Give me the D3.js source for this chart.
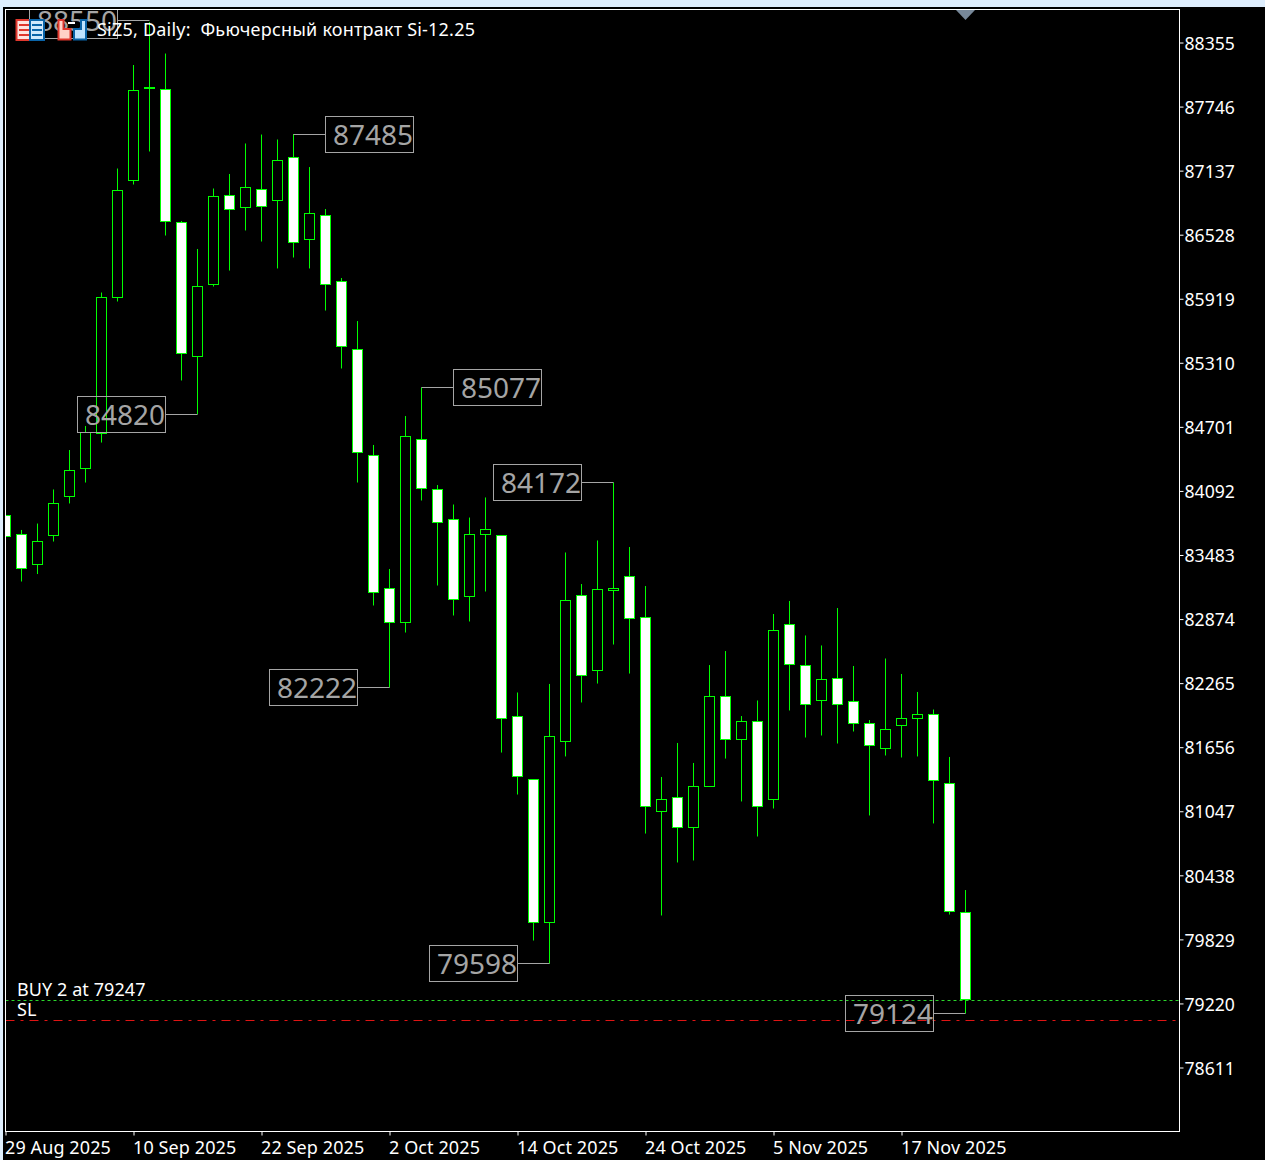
<!DOCTYPE html>
<html><head><meta charset="utf-8">
<script src="https://cdn.jsdelivr.net/npm/d3@7/dist/d3.min.js"></script>
<style>
html,body{margin:0;padding:0;background:#000;overflow:hidden}
svg{display:block;position:absolute;left:0;top:0}
text{font-family:"Noto Sans","Liberation Sans",sans-serif}
</style></head><body><div id="c"></div>
<script>
const dates=["29 Aug 2025","1 Sep 2025","2 Sep 2025","3 Sep 2025","4 Sep 2025","5 Sep 2025","8 Sep 2025","9 Sep 2025","10 Sep 2025","11 Sep 2025","12 Sep 2025","15 Sep 2025","16 Sep 2025","17 Sep 2025","18 Sep 2025","19 Sep 2025","22 Sep 2025","23 Sep 2025","24 Sep 2025","25 Sep 2025","26 Sep 2025","29 Sep 2025","30 Sep 2025","1 Oct 2025","2 Oct 2025","3 Oct 2025","6 Oct 2025","7 Oct 2025","8 Oct 2025","9 Oct 2025","10 Oct 2025","13 Oct 2025","14 Oct 2025","15 Oct 2025","16 Oct 2025","17 Oct 2025","20 Oct 2025","21 Oct 2025","22 Oct 2025","23 Oct 2025","24 Oct 2025","27 Oct 2025","28 Oct 2025","29 Oct 2025","30 Oct 2025","31 Oct 2025","3 Nov 2025","4 Nov 2025","5 Nov 2025","6 Nov 2025","7 Nov 2025","10 Nov 2025","11 Nov 2025","12 Nov 2025","13 Nov 2025","14 Nov 2025","17 Nov 2025","18 Nov 2025","19 Nov 2025","20 Nov 2025","21 Nov 2025"];
const opens=[83859,83678,83393,83668,84039,84305,84638,85931,87043,87918,87908,86644,85370,86054,86900,86786,86958,86853,87262,86482,86710,86083,85436,84429,83164,82841,84581,84106,83820,83088,83678,83668,81948,81349,79989,81710,83098,82385,83145,83279,82889,81045,81178,80892,81282,82138,81729,81900,81159,82822,82432,82100,82309,82090,81881,81643,81862,81929,81967,81311,80084];
const closes=[83659,83355,83611,83973,84286,84647,85931,86948,87899,87927,86653,85398,86035,86891,86767,86977,86796,87233,86454,86729,86054,85465,84457,83126,82841,84609,84115,83792,83060,83678,83725,81929,81377,79989,81758,83050,82337,83155,83164,82879,81092,81159,80892,81282,82138,81729,81900,81092,82765,82442,82062,82299,82062,81881,81672,81824,81929,81967,81339,80094,79257];
const highs=[83859,83721,83782,84106,84481,84709,85978,87157,88141,88550,88250,86658,86392,86967,87105,87395,87480,87433,87485,87171,86772,86116,85707,84529,83350,84804,85077,84148,83963,83839,84030,83668,82176,81349,82257,83507,83207,83621,84172,83559,83188,81373,81696,81506,82437,82570,81952,82100,82922,83046,82718,82623,82979,82428,81914,82499,82352,82181,82014,81563,80298];
const lows=[83659,83231,83302,83611,83973,84172,84552,85893,87005,87319,86520,85142,84820,86035,86187,86568,86463,86207,86311,86207,85807,85256,84172,83003,82222,82746,84001,83193,82908,82851,83136,81605,81206,79818,79598,81568,82081,82261,82632,82356,80835,80056,80560,80579,81282,81548,81140,80807,81073,82005,81748,81767,81691,81805,81007,81577,81558,81568,80931,80065,79124];
const yTicks=[88355,87746,87137,86528,85919,85310,84701,84092,83483,82874,82265,81656,81047,80438,79829,79220,78611];
const xTickLabels=["29 Aug 2025","10 Sep 2025","22 Sep 2025","2 Oct 2025","14 Oct 2025","24 Oct 2025","5 Nov 2025","17 Nov 2025"];
const labelValues=[88550,87485,84820,85077,84172,82222,79598,79124];
const labelDates=["11 Sep 2025","24 Sep 2025","16 Sep 2025","6 Oct 2025","22 Oct 2025","2 Oct 2025","16 Oct 2025","21 Nov 2025"];
const labelSide=["left","right","left","right","left","left","left","left"];
const tradePrices=[79247,79055];
const tradeTexts=["BUY 2 at 79247","SL"];
const title="SiZ5, Daily:  Фьючерсный контракт Si-12.25";

const W=1265,H=1160,L=5.5,R=1179.5,T=9.5,B=1131.5;
const svg=d3.select("#c").append("svg").attr("width",W).attr("height",H);
svg.append("rect").attr("width",W).attr("height",7).attr("fill","#deeefd");
svg.append("rect").attr("width",3).attr("height",H).attr("fill","#deeefd");

const x=d3.scalePoint().domain(dates).range([5.5,965.5]);
const y=d3.scaleLinear().domain([88355,78611]).range([42.5,1067.5]);
const sy=v=>Math.floor(y(v))+.5;
const GREEN="#00ff00",GRAY="#a5a5a5";

svg.append("defs").append("clipPath").attr("id","plot").append("rect").attr("x",L).attr("y",T).attr("width",R-L).attr("height",B-T);
const plot=svg.append("g").attr("clip-path","url(#plot)");

plot.append("line").attr("x1",L).attr("x2",R).attr("y1",sy(tradePrices[0])).attr("y2",sy(tradePrices[0])).attr("stroke","#2bd62b").attr("stroke-dasharray","3 3");
plot.append("line").attr("x1",L).attr("x2",R).attr("y1",sy(tradePrices[1])).attr("y2",sy(tradePrices[1])).attr("stroke","#e01414").attr("stroke-dasharray","9 6 3 6");

const rows=dates.map((d,i)=>({d,o:opens[i],c:closes[i],h:highs[i],l:lows[i]}));
const g=plot.selectAll("g.c").data(rows).join("g").attr("class","c");
g.append("line").attr("x1",d=>x(d.d)).attr("x2",d=>x(d.d)).attr("y1",d=>y(d.h)).attr("y2",d=>y(d.l)).attr("stroke",GREEN);
g.append("rect").attr("x",d=>x(d.d)-5).attr("width",10)
 .attr("y",d=>sy(Math.max(d.o,d.c))).attr("height",d=>sy(Math.min(d.o,d.c))-sy(Math.max(d.o,d.c)))
 .attr("fill",d=>d.c<d.o?"#fff":"#000").attr("stroke",GREEN).attr("shape-rendering","crispEdges");

const lab=plot.selectAll("g.l").data(labelValues).join("g").attr("class","l");
lab.each(function(v,i){
  const s=d3.select(this),px=x(labelDates[i]),py=sy(v)-(i===0?1:0),w=88,h=36;
  const left=labelSide[i]==="left";
  const near=left?px-32:px+32;
  const bx=left?near-w:near;
  s.append("line").attr("x1",px).attr("x2",near).attr("y1",py).attr("y2",py).attr("stroke",GRAY);
  s.append("rect").attr("x",bx).attr("y",py-18).attr("width",w).attr("height",h).attr("fill","none").attr("stroke",GRAY);
  s.append("text").attr("x",bx+w-0.5).attr("y",py+10.5).attr("text-anchor","end").attr("fill",GRAY).attr("font-size",28).text(v);
});

plot.append("path").attr("d",d3.line()([[x(dates[60])-10,T],[x(dates[60])+10,T],[x(dates[60]),T+10.5]])).attr("fill","#778899");

const ax=svg.append("g").attr("transform",`translate(${R},0)`).call(d3.axisRight(y).tickValues(yTicks).tickFormat(d3.format("d")).tickSize(4).tickPadding(1));
ax.select(".domain").remove();
ax.selectAll("line").attr("stroke","#fff");
ax.selectAll("text").attr("fill","#fff").attr("font-size",17.6).attr("dy",".38em");

const bx=svg.append("g").attr("transform",`translate(0,${B})`).call(d3.axisBottom(x).tickValues(xTickLabels).tickSize(4).tickPadding(6));
bx.select(".domain").remove();
bx.selectAll("line").attr("stroke","#fff");
bx.selectAll("text").attr("fill","#fff").attr("font-size",18).attr("text-anchor","start").attr("dx",-1).style("letter-spacing","0.1px");

svg.append("rect").attr("x",L).attr("y",T).attr("width",R-L).attr("height",B-T).attr("fill","none").attr("stroke","#fff");

svg.append("text").attr("x",97).attr("y",36).attr("fill","#fff").attr("font-size",18).style("letter-spacing","0.21px").style("white-space","pre").text(title);
tradeTexts.forEach((t,i)=>svg.append("text").attr("x",17).attr("y",sy(tradePrices[i])-5).attr("fill","#fff").attr("font-size",18).style("letter-spacing","0.08px").text(t));

const ic=svg.append("g");
ic.append("rect").attr("x",16.5).attr("y",20).attr("width",14).attr("height",20).attr("fill","#ffe4df").attr("stroke","#e0382e").attr("stroke-width",2);
ic.append("rect").attr("x",30).attr("y",20).attr("width",14).attr("height",20).attr("fill","#cfe8fb").attr("stroke","#0a64a8").attr("stroke-width",2);
[25,30,35].forEach(v=>{ic.append("rect").attr("x",19).attr("y",v-1).attr("width",10).attr("height",2).attr("fill","#e0382e");ic.append("rect").attr("x",32).attr("y",v-1).attr("width",10).attr("height",2).attr("fill","#0a64a8");});
ic.append("path").attr("d","M58.5 20h5v9h7v10.5h-12z").attr("fill","#ffd2c8").attr("stroke","#e0382e").attr("stroke-width",2);
ic.append("path").attr("d","M86 20h-5v9h-7v10.5h12z").attr("fill","#bfe3ff").attr("stroke","#0a64a8").attr("stroke-width",2);
ic.append("rect").attr("x",68).attr("y",22).attr("width",7).attr("height",2).attr("fill","#fff");
</script></body></html>
